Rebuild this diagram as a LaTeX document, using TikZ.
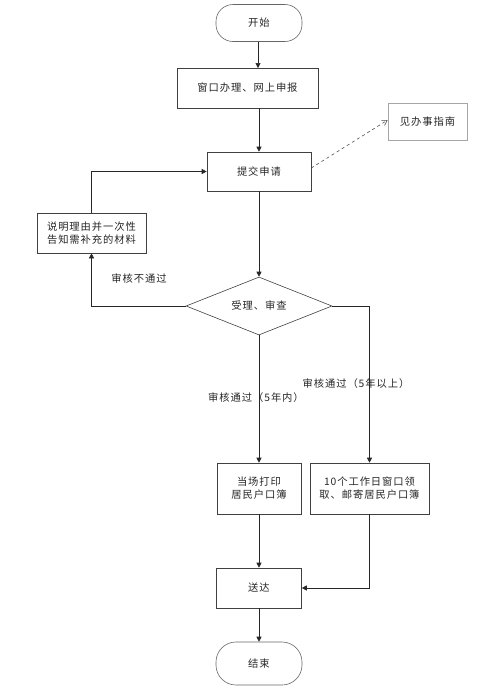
\documentclass[tikz,border=0pt]{standalone}
\usepackage{fontspec}
\setmainfont{Noto Sans CJK SC}[LetterSpace=9]
\usetikzlibrary{arrows.meta,shapes.geometric}
\begin{document}
\begin{tikzpicture}[x=1pt,y=-1pt,
  every node/.style={font=\fontsize{10.3}{13}\selectfont, text=black!85, align=center, inner sep=0pt},
  box/.style={draw=black!75, line width=0.6pt, minimum width=#1, minimum height=40pt},
  term/.style={draw=black!60, line width=0.6pt, rounded corners=17pt, minimum width=86pt, minimum height=37pt},
  link/.style={draw=black!85, line width=0.6pt, -{Triangle[length=5pt,width=5pt]}},
  lbl/.style={font=\fontsize{10.3}{13}\selectfont}]
\useasboundingbox (0,0) rectangle (481,689);
\node[term] (start) at (259,23) {开始};
\node[box=141pt] (apply) at (247.5,88) {窗口办理、网上申报};
\node[box=104pt, minimum height=39pt] (submit) at (259,171.5) {提交申请};
\node[draw=black!35, line width=0.6pt, minimum width=79pt, minimum height=37pt] (guide) at (427.5,121.5) {见办事指南};
\node[box=109pt] (explain) at (91.5,233) {说明理由并一次性\\告知需补充的材料};
\node[draw=black!75, line width=0.6pt, diamond, aspect=2.52, minimum width=146pt, minimum height=58pt] (check) at (259,306) {受理、审查};
\node[box=84pt, minimum height=51pt] (print) at (259,488.5) {当场打印\\居民户口簿};
\node[box=119pt, minimum height=51pt] (mail) at (369.5,488.5) {10个工作日窗口领\\取、邮寄居民户口簿};
\node[box=85pt] (deliver) at (259,588) {送达};
\node[term, minimum height=43pt, rounded corners=20pt] (end) at (259,663.5) {结束};

\coordinate (a1) at (258,68);
\draw[link] (start.south -| a1) -- (a1);
\draw[link] (259,108) -- (submit.north);
\draw[link, draw=black!70, dashed, -{Straight Barb[length=5pt,width=6pt]}] (submit.east |- 0,168) -- (guide.west |- 0,120);
\draw[link] (submit.south) -- (check.north);
\draw[link] (check.west) -| (explain.south);
\draw[link] (explain.north) |- (submit.west);
\node[lbl] (nopass) at (139,279) {审核不通过};
\draw[link] (check.south) -- (print.north);
\node[lbl] (pass5) at (256,398) {审核通过（5年内）};
\draw[link] (check.east) -| (mail.north);
\node[lbl] (passmore) at (356,384) {审核通过（5年以上）};
\draw[link] (print.south) -- (deliver.north);
\draw[link] (mail.south) |- (deliver.east);
\draw[link] (deliver.south) -- (end.north);
\end{tikzpicture}
\end{document}
